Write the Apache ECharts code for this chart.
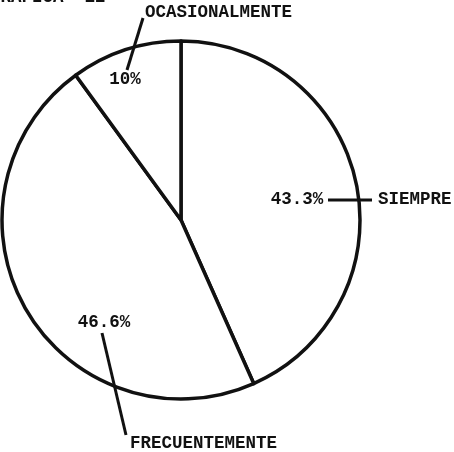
<!DOCTYPE html>
<html>
<head>
<meta charset="utf-8">
<title>Grafica 12</title>
<script src="https://cdn.jsdelivr.net/npm/echarts@6/dist/echarts.min.js"></script>
<style>
  html, body { margin: 0; padding: 0; background: #fff; }
  #chart { width: 454px; height: 452px; }
</style>
</head>
<body>
<div id="chart"></div>
<script>
// datos de la grafica
const categories = ['SIEMPRE', 'FRECUENTEMENTE', 'OCASIONALMENTE'];
const values = [43.3, 46.6, 10];
const percentLabels = ['43.3%', '46.6%', '10%'];

// centro y radio del circulo (px)
const CX = 181;
const CY = 220;
const R = 179;
const FONT = 'Liberation Mono';

// posicion del porcentaje, relativa al centro
const percentPos = [[116, -20], [-77, 103], [-56, -140]];
// linea guia y posicion del nombre, relativas al centro
const namePos = [
  { line: [[147, -20], [191, -20]], text: [197, -20] },
  { line: [[-79, 113], [-55, 215]], text: [-51, 224] },
  { line: [[-54, -150], [-38, -202]], text: [-36, -207] }
];

const pieData = categories.map((name, i) => ({ name: name, value: values[i] }));

const chart = echarts.init(document.getElementById('chart'));

const textStyle = {
  fontFamily: FONT,
  fontSize: 17.5,
  fontWeight: 'bold',
  color: '#111'
};

chart.setOption({
  animation: false,
  title: {
    text: 'GRAFICA  12',
    left: -10,
    top: -11,
    padding: 0,
    textStyle: textStyle
  },
  series: [
    {
      // rebanadas con el porcentaje
      type: 'pie',
      center: [CX, CY],
      radius: [0, R],
      startAngle: 90,
      clockwise: true,
      silent: true,
      avoidLabelOverlap: false,
      data: pieData,
      itemStyle: { color: '#fff', borderColor: '#111', borderWidth: 3.5 },
      label: Object.assign({
        position: 'inside',
        overflow: 'none',
        formatter: (p) => percentLabels[p.dataIndex]
      }, textStyle),
      labelLine: { show: false },
      labelLayout: function (params) {
        const p = percentPos[params.dataIndex];
        return { x: CX + p[0], y: CY + p[1], align: 'center', verticalAlign: 'middle', hideOverlap: false };
      }
    },
    {
      // nombres con linea guia
      type: 'pie',
      center: [CX, CY],
      radius: [0, R],
      startAngle: 90,
      clockwise: true,
      silent: true,
      avoidLabelOverlap: false,
      z: 3,
      data: pieData,
      itemStyle: { color: 'transparent', borderWidth: 0 },
      label: Object.assign({
        position: 'outside',
        alignTo: 'none',
        overflow: 'none',
        width: 200,
        formatter: '{b}'
      }, textStyle),
      labelLine: { show: true, length: 10, length2: 10, lineStyle: { color: '#111', width: 3 } },
      labelLayout: function (params) {
        const n = namePos[params.dataIndex];
        return {
          x: CX + n.text[0],
          y: CY + n.text[1],
          align: 'left',
          verticalAlign: 'middle',
          hideOverlap: false,
          labelLinePoints: [
            [CX + n.line[0][0], CY + n.line[0][1]],
            [CX + n.line[1][0], CY + n.line[1][1]],
            [CX + n.line[1][0], CY + n.line[1][1]]
          ]
        };
      }
    }
  ]
});
</script>
</body>
</html>
